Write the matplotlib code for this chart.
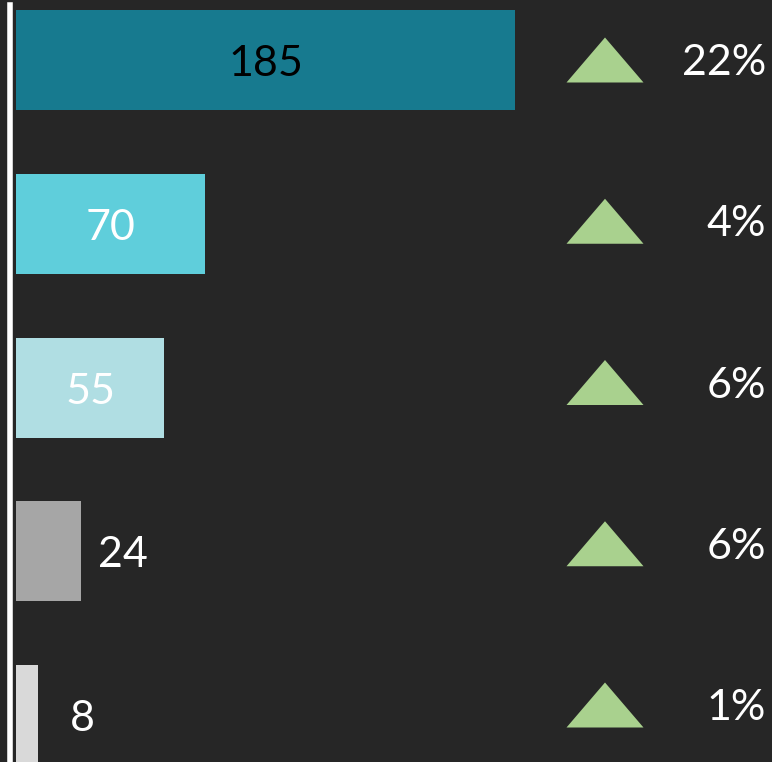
import matplotlib
matplotlib.use("Agg")
import matplotlib.pyplot as plt
from matplotlib.patches import Polygon

# data
values = [185, 70, 55, 24, 8]
changes = ["22%", "4%", "6%", "6%", "1%"]
bar_colors = ["#177A8F", "#5FCEDB", "#B0DEE3", "#A6A6A6", "#D9D9D9"]
label_colors = ["black", "white", "white", "white", "white"]
label_inside = [True, True, True, False, False]
label_pad = [0, 0, 0, 17, 32]   # pixels right of bar end for outside labels

bg = "#262626"
plt.rcParams['font.family'] = ['Lato', 'DejaVu Sans']

fig = plt.figure(figsize=(7.72, 7.62), dpi=100, facecolor=bg)
ax = fig.add_axes([0, 0, 1, 1], facecolor=bg)

px = 499 / 185.0        # pixels per unit
step = 163.75           # pixels between bars
ax.set_xlim(-16 / px, (772 - 16) / px)
ax.set_ylim((762 - 60) / step, -60 / step)

ys = list(range(len(values)))
ax.barh(ys, values, height=100 / step, color=bar_colors, left=0)

for y, v, c, inside, pad in zip(ys, values, label_colors, label_inside, label_pad):
    if inside:
        ax.annotate(str(v), (v / 2, y), xytext=(0, -4), textcoords="offset pixels",
                    ha="center", va="center", color=c, fontsize=31)
    else:
        ax.annotate(str(v), (v, y), xytext=(pad, -4), textcoords="offset pixels",
                    ha="left", va="center", color=c, fontsize=31)

# up triangles + change labels sit on a slightly tighter grid than the bars
tri_step = 161.25 / step
tri_x = (605 - 16) / px
tri_w = 38.5 / px
tri_h = 45 / step
for i, ch in enumerate(changes):
    y = i * tri_step
    tri = Polygon([(tri_x - tri_w, y + tri_h / 2), (tri_x + tri_w, y + tri_h / 2),
                   (tri_x, y - tri_h / 2)], closed=True, color="#A9D18E", lw=0)
    ax.add_patch(tri)
    ax.annotate(ch, ((766 - 16) / px, y), xytext=(0, -3), textcoords="offset pixels",
                ha="right", va="center", color="white", fontsize=31)

# white baseline
ax.axvline((10.5 - 16) / px, ymin=0, ymax=1 - 5 / 762, color="white", lw=4)

ax.axis("off")
fig.savefig("out.png", dpi=100, facecolor=bg)
